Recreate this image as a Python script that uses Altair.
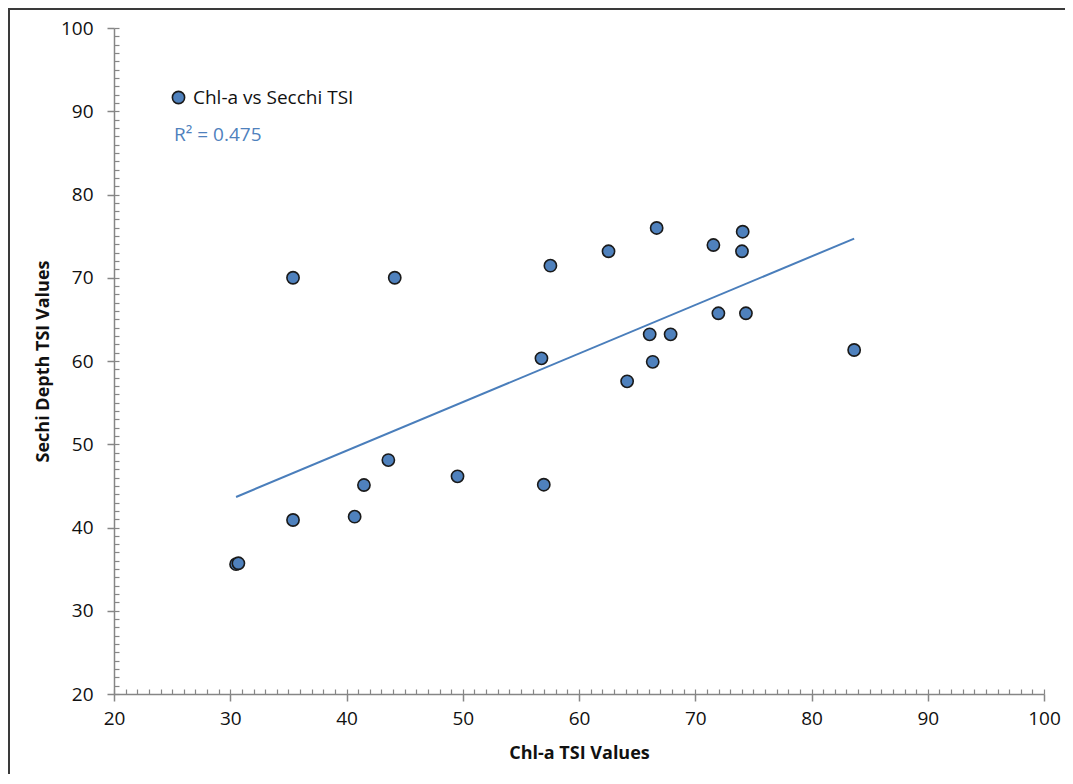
import altair as alt
import pandas as pd

# Data
chl_tsi = [30.5, 30.7, 35.4, 35.4, 40.7, 41.5, 43.6, 44.15, 49.55, 56.97, 56.77, 57.54,
           62.54, 64.14, 66.08, 66.34, 66.68, 67.88, 71.56, 71.99, 74.02, 74.08, 74.36, 83.67]
secchi_tsi = [35.6, 35.7, 40.9, 70.0, 41.3, 45.1, 48.1, 70.0, 46.15, 45.14, 60.32, 71.45,
              73.18, 57.56, 63.2, 59.9, 75.98, 63.2, 73.93, 65.73, 73.18, 75.53, 65.73, 61.32]
series_name = "Chl-a vs Secchi TSI"
r2_label = "R² = 0.475"
major_ticks = list(range(20, 101, 10))
minor_ticks = list(range(20, 101, 1))

df = pd.DataFrame({"chl": chl_tsi, "secchi": secchi_tsi, "series": [series_name] * len(chl_tsi)})

FONT = "Open Sans"
AXIS_GRAY = "#868686"
W, H = 930, 666

xscale = alt.Scale(domain=[20, 100], nice=False, zero=False)
yscale = alt.Scale(domain=[20, 100], nice=False, zero=False)

x_major = alt.Axis(values=major_ticks, grid=False, tickSize=7, tickColor=AXIS_GRAY,
                   domainColor=AXIS_GRAY, domainWidth=1.5, tickWidth=1.5, labelFlush=False,
                   labelFont=FONT, labelFontSize=19, labelColor="#111111", labelPadding=8,
                   title="Chl-a TSI Values", titleFont=FONT, titleFontSize=18,
                   titleFontWeight="bold", titleColor="#111111", titlePadding=16)
y_major = alt.Axis(values=major_ticks, grid=False, tickSize=7, tickColor=AXIS_GRAY,
                   domainColor=AXIS_GRAY, domainWidth=1.5, tickWidth=1.5, labelFlush=False,
                   labelFont=FONT, labelFontSize=19, labelColor="#111111", labelPadding=14,
                   title="Sechi Depth TSI Values", titleFont=FONT, titleFontSize=18,
                   titleFontWeight="bold", titleColor="#111111", titlePadding=8)

points = alt.Chart(df).mark_point(filled=True, size=150, stroke="#1a1a1a",
                                  strokeWidth=1.6, opacity=1).encode(
    x=alt.X("chl:Q", scale=xscale, axis=x_major),
    y=alt.Y("secchi:Q", scale=yscale, axis=y_major),
    fill=alt.Fill("series:N", scale=alt.Scale(domain=[series_name], range=["#4F81BD"]),
                  legend=alt.Legend(orient="none", legendX=55, legendY=60, title=None,
                                    symbolType="circle", symbolSize=150,
                                    symbolStrokeColor="#1a1a1a", symbolStrokeWidth=1.6,
                                    labelFont=FONT, labelFontSize=19, labelColor="#111111",
                                    labelOffset=5, labelLimit=400)),
    shape=alt.value("circle"),
)

x_minor = alt.Axis(orient="top", offset=-H, values=minor_ticks, labels=False, title=None,
                   grid=False, domain=False, tickSize=5, tickWidth=1.2, tickColor=AXIS_GRAY)
y_minor = alt.Axis(orient="right", offset=-W, values=minor_ticks, labels=False, title=None,
                   grid=False, domain=False, tickSize=5, tickWidth=1.2, tickColor=AXIS_GRAY)

trend = alt.Chart(df).transform_regression("chl", "secchi").mark_line(
    color="#4A7EBB", strokeWidth=2).encode(
    x=alt.X("chl:Q", scale=xscale, axis=x_minor),
    y=alt.Y("secchi:Q", scale=yscale, axis=y_minor),
)

r2_text = alt.Chart(pd.DataFrame({"t": [r2_label]})).mark_text(
    align="left", baseline="middle", font=FONT, fontSize=19, color="#4F81BD").encode(
    text="t:N", x=alt.value(60), y=alt.value(107))

border = alt.Chart(pd.DataFrame({"a": [0]})).mark_rect(
    fill=None, stroke="#3a3a3a", strokeWidth=2, clip=False).encode(
    x=alt.value(-105), x2=alt.value(1200), y=alt.value(-19), y2=alt.value(900))

chart = alt.layer(border, points, trend, r2_text).resolve_axis(
    x="independent", y="independent").properties(
    width=W, height=H,
    padding={"left": 106, "top": 20, "right": 21, "bottom": 80},
    autosize=alt.AutoSizeParams(type="none"),
).configure_view(stroke=None)

chart.save("out.html", embed_options={"renderer": "svg", "actions": False})
